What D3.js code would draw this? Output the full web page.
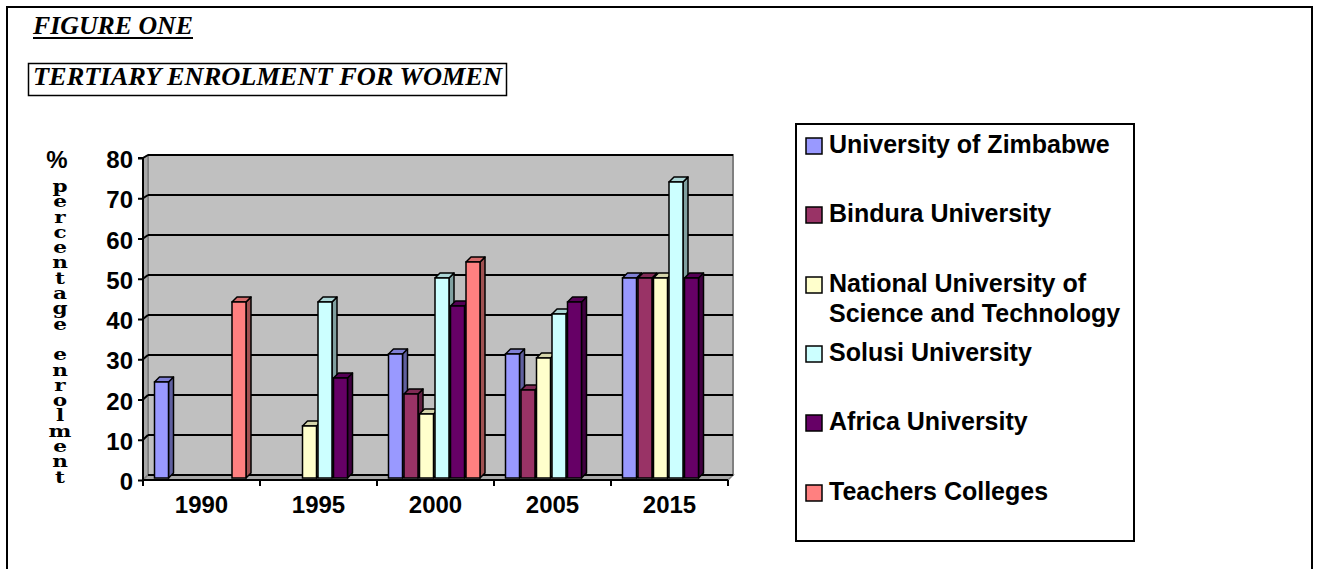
<!DOCTYPE html>
<html>
<head>
<meta charset="utf-8">
<script src="https://cdn.jsdelivr.net/npm/d3@7"></script>
<style>
  html, body { margin: 0; padding: 0; background: #fff; }
  svg { display: block; }
</style>
</head>
<body>
<svg id="chart"></svg>
<script>
const categories = ['1990', '1995', '2000', '2005', '2015'];
const seriesNames = [
  'University of Zimbabwe',
  'Bindura University',
  'National University of Science and Technology',
  'Solusi University',
  'Africa University',
  'Teachers Colleges'
];
const legendLines = [
  ['University of Zimbabwe'],
  ['Bindura University'],
  ['National University of', 'Science and Technology'],
  ['Solusi University'],
  ['Africa University'],
  ['Teachers Colleges']
];
const uzValues       = [24, null, 31, 31, 50];
const binduraValues  = [null, null, 21, 22, 50];
const nustValues     = [null, 13, 16, 30, 50];
const solusiValues   = [null, 44, 50, 41, 74];
const africaValues   = [null, 25, 43, 44, 50];
const teachersValues = [44, null, 54, null, null];
const yTicks = [0, 10, 20, 30, 40, 50, 60, 70, 80];
const colors = ['#9999FF', '#993366', '#FFFFCC', '#CCFFFF', '#660066', '#FF8080'];

const allValues = [uzValues, binduraValues, nustValues, solusiValues, africaValues, teachersValues];

const width = 1319, height = 569;
const svg = d3.select('#chart').attr('width', width).attr('height', height);

// outer frame
svg.append('rect')
  .attr('x', 7).attr('y', 7)
  .attr('width', 1305).attr('height', 600)
  .attr('fill', 'none').attr('stroke', '#000').attr('stroke-width', 2);

// titles
svg.append('text')
  .attr('x', 33).attr('y', 34)
  .attr('font-family', 'Liberation Serif')
  .attr('font-weight', 'bold').attr('font-style', 'italic')
  .attr('font-size', 26)
  .attr('textLength', 160).attr('lengthAdjust', 'spacingAndGlyphs')
  .text('FIGURE ONE');
svg.append('line')
  .attr('x1', 33).attr('x2', 193).attr('y1', 38).attr('y2', 38)
  .attr('stroke', '#000').attr('stroke-width', 2);

svg.append('rect')
  .attr('x', 28.5).attr('y', 63.5).attr('width', 478).attr('height', 32)
  .attr('fill', 'none').attr('stroke', '#000').attr('stroke-width', 1.5);
svg.append('text')
  .attr('x', 33).attr('y', 85)
  .attr('font-family', 'Liberation Serif')
  .attr('font-weight', 'bold').attr('font-style', 'italic')
  .attr('font-size', 26)
  .attr('textLength', 469).attr('lengthAdjust', 'spacingAndGlyphs')
  .text('TERTIARY ENROLMENT FOR WOMEN');

// scales
const depth = 5;
const x = d3.scaleBand().domain(categories).range([143, 728]);
const xs = d3.scaleBand().domain(seriesNames).range([11.5, 104.5]);
const y = d3.scaleLinear().domain([0, 80]).range([480, 158]);
const yWall = d3.scaleLinear().domain([0, 80]).range([475, 155]);
const yBar = d3.scaleLinear().domain([0, 80]).range([478, 158]);

const plotLeft = 143, plotRight = 728;

// back wall, side wall, floor
svg.append('rect')
  .attr('x', plotLeft + depth).attr('y', yWall(80))
  .attr('width', plotRight - plotLeft).attr('height', yWall(0) - yWall(80))
  .attr('fill', '#C0C0C0').attr('stroke', '#808080').attr('stroke-width', 2);
svg.append('polygon')
  .attr('points', [[plotLeft, y(80)], [plotLeft + depth, yWall(80)], [plotLeft + depth, yWall(0)], [plotLeft, y(0)]].join(' '))
  .attr('fill', '#A8A8A8').attr('stroke', '#808080').attr('stroke-width', 1.5);
svg.append('polygon')
  .attr('points', [[plotLeft, y(0)], [plotLeft + depth, yWall(0)], [plotRight + depth, yWall(0)], [plotRight, y(0)]].join(' '))
  .attr('fill', '#A8A8A8').attr('stroke', '#808080').attr('stroke-width', 1.5);

// gridlines
const grid = svg.append('g');
yTicks.filter(t => t > 0).forEach(t => {
  grid.append('line')
    .attr('x1', plotLeft + depth).attr('x2', plotRight + depth)
    .attr('y1', yWall(t)).attr('y2', yWall(t))
    .attr('stroke', '#000').attr('stroke-width', 2);
  grid.append('line')
    .attr('x1', plotLeft).attr('x2', plotLeft + depth)
    .attr('y1', y(t)).attr('y2', yWall(t))
    .attr('stroke', '#000').attr('stroke-width', 2);
});
grid.append('line')
  .attr('x1', plotLeft + depth).attr('x2', plotRight + depth)
  .attr('y1', yWall(0)).attr('y2', yWall(0))
  .attr('stroke', '#000').attr('stroke-width', 2);

// bars, drawn left to right so each one covers the side of the previous
const bars = svg.append('g');
categories.forEach((cat, ci) => {
  seriesNames.forEach((name, si) => {
    const v = allValues[si][ci];
    if (v == null) return;
    const bx = x(cat) + xs(name);
    const bw = 14;
    const top = yBar(v), bottom = yBar(0);
    const base = d3.color(colors[si]);
    // side face
    bars.append('polygon')
      .attr('points', [[bx + bw, top], [bx + bw + depth, top - depth], [bx + bw + depth, bottom - depth], [bx + bw, bottom]].join(' '))
      .attr('fill', base.darker(1.3)).attr('stroke', '#000').attr('stroke-width', 1.5).attr('stroke-linejoin', 'round');
    // top face
    bars.append('polygon')
      .attr('points', [[bx, top], [bx + depth, top - depth], [bx + bw + depth, top - depth], [bx + bw, top]].join(' '))
      .attr('fill', base.darker(0.5)).attr('stroke', '#000').attr('stroke-width', 1.5).attr('stroke-linejoin', 'round');
    // front face
    bars.append('rect')
      .attr('x', bx).attr('y', top).attr('width', bw).attr('height', bottom - top)
      .attr('fill', colors[si]).attr('stroke', '#000').attr('stroke-width', 1.5);
  });
});

// y axis
const yAxis = d3.axisLeft(y).tickValues(yTicks).tickSize(5).tickPadding(5);
const gy = svg.append('g').attr('transform', `translate(${plotLeft},0)`).call(yAxis);
gy.select('.domain').attr('stroke', '#000').attr('stroke-width', 2).attr('d', `M-5,${y(80)}H0V${y(0) + 5}`);
gy.selectAll('.tick line').attr('stroke', '#000').attr('stroke-width', 2);
gy.selectAll('.tick text')
  .attr('font-family', 'Liberation Sans').attr('font-weight', 'bold')
  .attr('font-size', 24).attr('fill', '#000').attr('dy', '0.4em');

// x axis
const xAxis = d3.axisBottom(x).tickSize(0).tickPadding(16);
const gx = svg.append('g').attr('transform', `translate(0,${y(0)})`).call(xAxis);
gx.select('.domain').attr('stroke', '#000').attr('stroke-width', 2).attr('d', `M${plotLeft},0H${plotRight}`);
gx.selectAll('.tick text')
  .attr('font-family', 'Liberation Sans').attr('font-weight', 'bold')
  .attr('font-size', 24).attr('fill', '#000');
const boundaries = categories.map(c => x(c)).concat([plotRight]);
gx.selectAll('.bound').data(boundaries).enter().append('line')
  .attr('x1', d => d).attr('x2', d => d).attr('y1', 0).attr('y2', 6)
  .attr('stroke', '#000').attr('stroke-width', 2);

// y axis title: "%" then the letters stacked in one text element
svg.append('text')
  .attr('x', 57).attr('y', 168)
  .attr('text-anchor', 'middle')
  .attr('font-family', 'Liberation Sans').attr('font-weight', 'bold')
  .attr('font-size', 24)
  .text('%');
const yTitle = 'percentage enrolment'.split('');
const sy = 0.85;
svg.append('text')
  .attr('transform', `translate(60,192) scale(1.08,${sy})`)
  .attr('text-anchor', 'middle')
  .attr('font-family', 'DejaVu Serif').attr('font-weight', 'bold')
  .attr('font-size', 20)
  .selectAll('tspan').data(yTitle).enter().append('tspan')
  .attr('x', 0)
  .attr('y', (d, i) => i * 15.3 / sy)
  .text(d => d === ' ' ? '\u00a0' : d);

// legend
const legend = svg.append('g');
legend.append('rect')
  .attr('x', 796).attr('y', 124).attr('width', 338).attr('height', 417)
  .attr('fill', '#fff').attr('stroke', '#000').attr('stroke-width', 2);
const legendBaselines = [153, 222, 292, 361, 430, 500];
legendLines.forEach((lines, i) => {
  const by = legendBaselines[i];
  legend.append('rect')
    .attr('x', 806).attr('y', by - 15).attr('width', 16).attr('height', 16)
    .attr('fill', colors[i]).attr('stroke', '#000').attr('stroke-width', 1.5);
  lines.forEach((ln, j) => {
    legend.append('text')
      .attr('x', 829).attr('y', by + j * 30)
      .attr('font-family', 'Liberation Sans').attr('font-weight', 'bold')
      .attr('font-size', 25)
      .text(ln);
  });
});
</script>
</body>
</html>
